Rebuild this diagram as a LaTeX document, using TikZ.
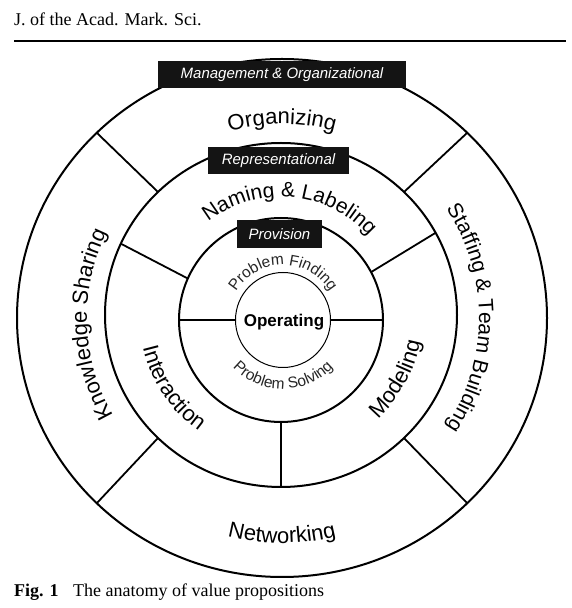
\documentclass[tikz,border=0pt]{standalone}
\usepackage{fontspec}
\setmainfont{Liberation Serif}
\setsansfont{Liberation Sans}
\usetikzlibrary{decorations.text,shapes.geometric}
\newcommand\ringfont{\sffamily\fontsize{22}{22}\selectfont}
\newcommand\ringfontb{\sffamily\fontsize{21}{21}\selectfont}
\newcommand\smallringfont{\sffamily\fontsize{15.5}{15.5}\selectfont\color{black!85}}
\newcommand\bannerfont{\sffamily\itshape\fontsize{15}{15}\selectfont}
\begin{document}
\begin{tikzpicture}[x=1pt,y=1pt,
  ring/.style={draw, ellipse, line width=2pt, inner sep=0pt, outer sep=0pt},
  spoke/.style={line width=1.8pt},
  banner/.style={fill=black!92, text=white, font=\bannerfont, inner sep=0pt, outer sep=0pt},
  biglabel/.style={decorate, decoration={text along path, text align=center, text={|\ringfont|#1}}},
  midlabel/.style={decorate, decoration={text along path, text align=center, text={|\ringfontb|#1}}},
  smalllabel/.style={decorate, decoration={text along path, text align=center, text={|\smallringfont|#1}}},
]
\useasboundingbox (0,0) rectangle (572,608);
\coordinate (Co) at (282,290);
\coordinate (Cm) at (281,293);
\coordinate (Cp) at (281,288);
\coordinate (Cc) at (283,288);

% header
\node[anchor=base west, inner sep=0pt, font=\fontsize{18}{18}\selectfont] (hdr) at (14,582) {J. of the Acad. Mark. Sci.};
\coordinate (ruleL) at (14,566.5);
\coordinate (ruleR) at (566,566.5);
\draw[line width=2pt] (ruleL) -- (ruleR);

% rings
\node[ring, minimum width=530pt, minimum height=518pt] (outer) at (Co) {};
\node[ring, minimum width=352pt, minimum height=344pt] (middle) at (Cm) {};
\node[ring, minimum width=204pt, minimum height=204pt] (prov) at (Cp) {};
\node[ring, minimum width=95pt, minimum height=95pt, line width=1pt] (core) at (Cc) {};

% spokes
\foreach \a in {45,135,225,315} \draw[spoke] (outer.\a) -- (middle.\a);
\foreach \a in {28,156,270} \draw[spoke] (middle.\a) -- (prov.\a);
\draw[spoke, line width=1.5pt] (prov.0) -- (core.0);
\draw[spoke, line width=1.5pt] (prov.180) -- (core.180);

% banners
\node[banner, minimum width=248pt, minimum height=27pt] (mgmt) at (282,533.5) {Management \& Organizational};
\node[banner, minimum width=141pt, minimum height=27pt] (repr) at (278.5,447.5) {Representational};
\node[banner, minimum width=85pt, minimum height=28pt] (provb) at (279.5,374) {Provision};

% outer ring labels
\path[biglabel={Organizing}] (Co) ++(150:194) arc[start angle=150, end angle=30, radius=194];
\path[biglabel={Knowledge Sharing}] (Co) ++(252:195) arc[start angle=252, end angle=112, radius=195];
\path[midlabel={Staffing {\&} Team Building}] (Co) ++(70:197) arc[start angle=70, end angle=-70, radius=197];
\path[biglabel={Networking}] (Co) ++(215:225) arc[start angle=215, end angle=325, radius=225];

% middle ring labels
\path[midlabel={Naming {\&} Labeling}] (Cm) ++(155:118) arc[start angle=155, end angle=15, radius=118];
\path[biglabel={Interaction}] (Cm) ++(164:142) arc[start angle=164, end angle=264, radius=142];
\path[biglabel={Modeling}] (Cm) ++(281:142) arc[start angle=281, end angle=381, radius=142];

% inner ring labels
\path[smalllabel={Problem Finding}] (Cc) ++(180:55) arc[start angle=180, end angle=0, radius=55];
\path[smalllabel={Problem Solving}] (Cc) ++(180:69) arc[start angle=180, end angle=360, radius=69];
\node[font=\sffamily\bfseries\fontsize{17}{17}\selectfont] (op) at (284,286) {Operating};

% caption
\node[anchor=base west, inner sep=0pt, font=\fontsize{18}{18}\selectfont] (cap) at (14,11) {\textbf{Fig. 1}\hspace{0.8em}The anatomy of value propositions};
\end{tikzpicture}
\end{document}
